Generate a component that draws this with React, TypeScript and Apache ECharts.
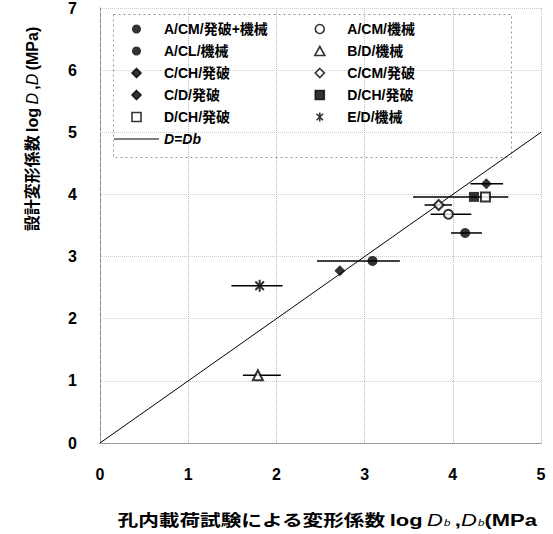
import React, { useEffect, useRef } from 'react';
import * as echarts from 'echarts';

// ---- data ----
const seriesNames = [
  'A/CM/発破+機械',
  'A/CL/機械',
  'C/CH/発破',
  'C/D/発破',
  'D/CH/発破',
  'A/CM/機械',
  'B/D/機械',
  'C/CM/発破',
  'D/CH/発破#2',
  'E/D/機械',
];
const pointX = [3.09, 4.14, 2.72, 4.38, 4.37, 3.95, 1.79, 3.84, 4.24, 1.81];
const pointY = [2.93, 3.38, 2.77, 4.17, 3.96, 3.68, 1.09, 3.83, 3.96, 2.53];
const barLow: (number | null)[] = [2.46, 3.98, null, 4.2, null, 3.75, 1.62, 3.68, 3.55, 1.49];
const barHigh: (number | null)[] = [3.4, 4.33, null, 4.57, null, 4.21, 2.05, 3.99, 4.63, 2.07];
const lineName = 'D=Db';
const lineData = [
  [0, 0],
  [5, 5],
];
const xTicks = [0, 1, 2, 3, 4, 5];
const yTicks = [0, 1, 2, 3, 4, 5, 6, 7];

const ASTERISK = 'path://M-4,-4L4,4M-4,4L4,-4M0,-5.6L0,5.6';
const LINE_ICON = 'path://M0,0L45,0L45,1L0,1Z';
const symbols = ['circle', 'circle', 'diamond', 'diamond', 'rect', 'circle', 'triangle', 'diamond', 'rect', ASTERISK];
const legendIcons = [
  'circle',
  'circle',
  'path://M5,0L10,5L5,10L0,5Z',
  'path://M5,0L10,5L5,10L0,5Z',
  'path://M0,0L10,0L10,10L0,10Z',
  'circle',
  'path://M5,0L10,9L0,9Z',
  'path://M5,0L10,5L5,10L0,5Z',
  'path://M0,0L10,0L10,10L0,10Z',
  ASTERISK,
];
const filled = [true, true, true, true, false, false, false, false, true, true];
const symbolSizes = [10, 10, 11, 11, 9, 9, 10, 10, 10, 12];

const legendCol1 = [0, 1, 2, 3, 4];
const legendCol2 = [5, 6, 7, 8, 9];

const FONT = '"Liberation Sans", Arial, "Noto Sans CJK JP", sans-serif';

export default function App() {
  const ref = useRef<HTMLDivElement>(null);

  useEffect(() => {
    if (!ref.current) return;
    const chart = echarts.init(ref.current, null, { renderer: 'svg' });

    const styleFor = (i: number) =>
      filled[i]
        ? symbols[i] === ASTERISK
          ? { color: '#000', borderColor: '#000', borderWidth: 2 }
          : { color: '#000', borderColor: '#000', borderWidth: 0 }
        : { color: '#fff', borderColor: '#000', borderWidth: 2 };

    const scatterSeries = seriesNames.map((name, i) => ({
      type: 'scatter',
      name,
      data: [[pointX[i], pointY[i]]],
      symbol: symbols[i],
      symbolSize: symbolSizes[i],
      symbolKeepAspect: true,
      z: i === 4 ? 5 : 4,
      itemStyle: styleFor(i),
    }));

    const barData = seriesNames
      .map((_, i) => (barLow[i] != null ? [barLow[i], barHigh[i], pointY[i]] : null))
      .filter((d) => d !== null);

    const legendText = {
      fontFamily: FONT,
      fontSize: 14,
      fontWeight: 'bold',
      color: '#000',
      rich: {
        it: { fontFamily: FONT, fontSize: 14, fontWeight: 'bold', fontStyle: 'italic', color: '#000' },
      },
    };
    const legendFormatter = (name: string) =>
      name === lineName ? '{it|D=Db}' : name.replace('#2', '');

    const legendItem = (i: number) => ({
      name: seriesNames[i],
      icon: legendIcons[i],
      itemStyle: { ...styleFor(i), borderColor: '#000', borderWidth: symbols[i] === 'circle' && filled[i] ? 0 : 1.6 },
    });

    const legendBase = {
      orient: 'vertical',
      top: 22,
      itemWidth: 45,
      itemHeight: 9,
      itemGap: 8,
      padding: 0,
      selectedMode: false,
      symbolKeepAspect: true,
      formatter: legendFormatter,
      textStyle: legendText,
    };

    const option: any = {
      animation: false,
      backgroundColor: '#fff',
      grid: { left: 100, right: 12, top: 8, bottom: 91, containLabel: false },
      xAxis: {
        type: 'value',
        min: 0,
        max: 5,
        interval: 1,
        axisLine: { show: true, lineStyle: { color: '#888', type: 'dotted', width: 1 } },
        axisTick: { show: false },
        axisLabel: {
          margin: 23,
          fontFamily: FONT,
          fontSize: 16,
          fontWeight: 'bold',
          color: '#000',
          formatter: (v: number) => (xTicks.includes(v) ? String(v) : ''),
        },
        splitLine: { show: true, lineStyle: { color: '#bbb', type: 'dotted', width: 1 } },
      },
      yAxis: {
        type: 'value',
        min: 0,
        max: 7,
        interval: 1,
        axisLine: { show: true, lineStyle: { color: '#888', type: 'dashed', width: 1 } },
        axisTick: { show: false },
        axisLabel: {
          margin: 23,
          fontFamily: FONT,
          fontSize: 16,
          fontWeight: 'bold',
          color: '#000',
          formatter: (v: number) => (yTicks.includes(v) ? String(v) : ''),
        },
        splitLine: { show: true, lineStyle: { color: '#ccc', type: 'dotted', width: 1 } },
      },
      legend: [
        {
          ...legendBase,
          left: 114,
          data: [
            ...legendCol1.map((i) => legendItem(i)),
            { name: lineName, icon: LINE_ICON, itemStyle: { color: '#000', borderWidth: 0 } },
          ],
        },
        {
          ...legendBase,
          left: 314,
          data: legendCol2.map((i) => legendItem(i)),
        },
      ],
      graphic: [
        {
          type: 'rect',
          left: 111,
          top: 12,
          shape: { width: 398, height: 143 },
          style: { fill: 'none', stroke: '#999', lineWidth: 1, lineDash: [2, 3] },
          z: 1,
        },
        {
          type: 'text',
          x: 32,
          y: 129,
          rotation: Math.PI / 2,
          style: {
            text: '{b|設計変形係数} {n|log} {i|D} {n|,}{i|D} {n|(MPa)}',
            align: 'center',
            verticalAlign: 'middle',
            fill: '#000',
            rich: {
              b: { fontFamily: FONT, fontSize: 16, fontWeight: 'bold', fill: '#000' },
              n: { fontFamily: FONT, fontSize: 16, fontWeight: 'bold', fill: '#000' },
              i: { fontFamily: FONT, fontSize: 16, fontStyle: 'italic', fill: '#000' },
            },
          },
        },
        {
          type: 'text',
          x: 327,
          y: 520,
          scaleX: 1.29,
          style: {
            text: '{b|孔内載荷試験による変形係数} {n|log} {i|D}{s|b} {n|,}{i|D}{s|b}{n|(MPa}',
            align: 'center',
            verticalAlign: 'middle',
            fill: '#000',
            rich: {
              b: { fontFamily: FONT, fontSize: 16, fontWeight: 'bold', fill: '#000' },
              n: { fontFamily: FONT, fontSize: 17, fontWeight: 'bold', fill: '#000' },
              i: { fontFamily: FONT, fontSize: 17, fontStyle: 'italic', fill: '#000' },
              s: { fontFamily: FONT, fontSize: 9, fontStyle: 'italic', fill: '#000', padding: [5, 0, 0, 1] },
            },
          },
        },
      ],
      series: [
        {
          type: 'line',
          name: lineName,
          data: lineData,
          symbol: 'none',
          z: 2,
          lineStyle: { color: '#000', width: 1 },
          itemStyle: { color: '#000' },
        },
        {
          type: 'custom',
          name: 'errbars',
          data: barData,
          encode: { x: [0, 1], y: 2 },
          z: 3,
          renderItem: (_params: any, api: any) => {
            const p1 = api.coord([api.value(0), api.value(2)]);
            const p2 = api.coord([api.value(1), api.value(2)]);
            return {
              type: 'line',
              shape: { x1: p1[0], y1: p1[1], x2: p2[0], y2: p2[1] },
              style: { stroke: '#000', lineWidth: 1.5 },
            };
          },
        },
        ...scatterSeries,
      ],
    };

    chart.setOption(option);
    return () => chart.dispose();
  }, []);

  return (
    <div
      ref={ref}
      style={{ position: 'fixed', left: 0, top: 0, width: 553, height: 534, background: '#fff' }}
    />
  );
}
